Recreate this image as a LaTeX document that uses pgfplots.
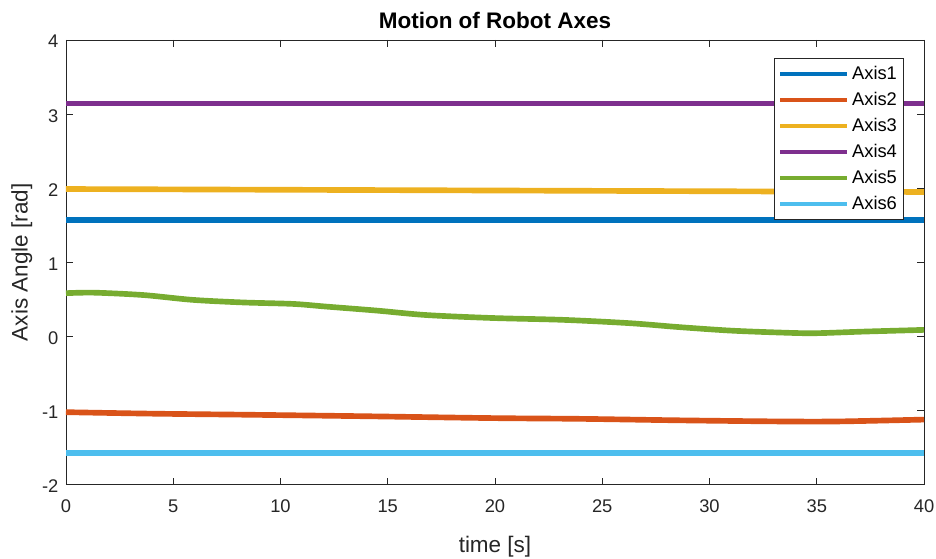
\documentclass[border=0pt]{standalone}
\usepackage{pgfplots}
\pgfplotsset{compat=1.18}
\usepackage{fontspec}
\setmainfont{Liberation Sans}
\definecolor{c1}{rgb}{0,0.447,0.741}
\definecolor{c2}{rgb}{0.85,0.325,0.098}
\definecolor{c3}{rgb}{0.929,0.694,0.125}
\definecolor{c4}{rgb}{0.494,0.184,0.556}
\definecolor{c5}{rgb}{0.466,0.674,0.188}
\definecolor{c6}{rgb}{0.301,0.745,0.933}
\definecolor{axgray}{rgb}{0.15,0.15,0.15}
\begin{document}
\begin{tikzpicture}
\useasboundingbox (-39.6pt,-44.4pt) rectangle (522.2pt,291pt);
\begin{axis}[
  at={(0pt,0pt)}, anchor=south west,
  scale only axis,
  width=515pt, height=267pt,
  xmin=0, xmax=40, ymin=-2, ymax=4,
  xtick={0,5,...,40}, ytick={-2,-1,...,4},
  tick align=inside,
  major tick length=4pt,
  axis line style={axgray, line width=0.5pt},
  every tick/.style={axgray, line width=0.5pt},
  tick label style={font=\fontsize{11}{13}\selectfont, text=axgray},
  xticklabel style={yshift=-5.5pt},
  yticklabel style={xshift=-1pt, yshift=-1pt},
  /pgf/number format/assume math mode=true,
  xlabel={time [s]},
  ylabel={Axis Angle [rad]},
  label style={font=\fontsize{13.5}{16}\selectfont, text=axgray},
  xlabel style={yshift=-7pt},
  ylabel style={yshift=-1pt},
  title={\textbf{Motion of Robot Axes}},
  title style={font=\fontsize{13.5}{16}\selectfont, yshift=-3pt},
  legend style={at={(axis description cs:0.9767,0.9596)}, anchor=north east,
    draw=axgray, line width=0.5pt, font=\fontsize{11}{13}\selectfont,
    row sep=2.2pt, inner xsep=2pt, inner ysep=2.5pt},
  legend cell align=left,
  legend image code/.code={\draw[#1, line width=2.4pt] (0pt,0pt) -- (40pt,0pt);},
  every axis plot/.append style={line width=3.4pt},
]
\addplot[c1] coordinates {(0,1.5708) (40,1.5708)};
\addlegendentry{Axis1}
\addplot[c2, smooth] coordinates {(0,-1.02) (4,-1.04) (8.6,-1.055) (14,-1.075) (19.9,-1.1) (24,-1.11) (28.6,-1.13) (33.3,-1.145) (36,-1.145) (40,-1.12)};
\addlegendentry{Axis2}
\addplot[c3] coordinates {(0,1.99) (20,1.97) (40,1.95)};
\addlegendentry{Axis3}
\addplot[c4] coordinates {(0,3.1416) (40,3.1416)};
\addlegendentry{Axis4}
\addplot[c5, smooth] coordinates {(0,0.585) (1.3,0.592) (3.6,0.56) (5.9,0.495) (8.25,0.46) (10.6,0.44) (12.1,0.405) (14.5,0.35) (16.8,0.29) (19.9,0.25) (23.2,0.225) (26.3,0.18) (28.6,0.127) (31,0.08) (33.3,0.054) (34.9,0.045) (37.2,0.067) (40,0.09)};
\addlegendentry{Axis5}
\addplot[c6] coordinates {(0,-1.5708) (40,-1.5708)};
\addlegendentry{Axis6}
\end{axis}
\end{tikzpicture}
\end{document}
